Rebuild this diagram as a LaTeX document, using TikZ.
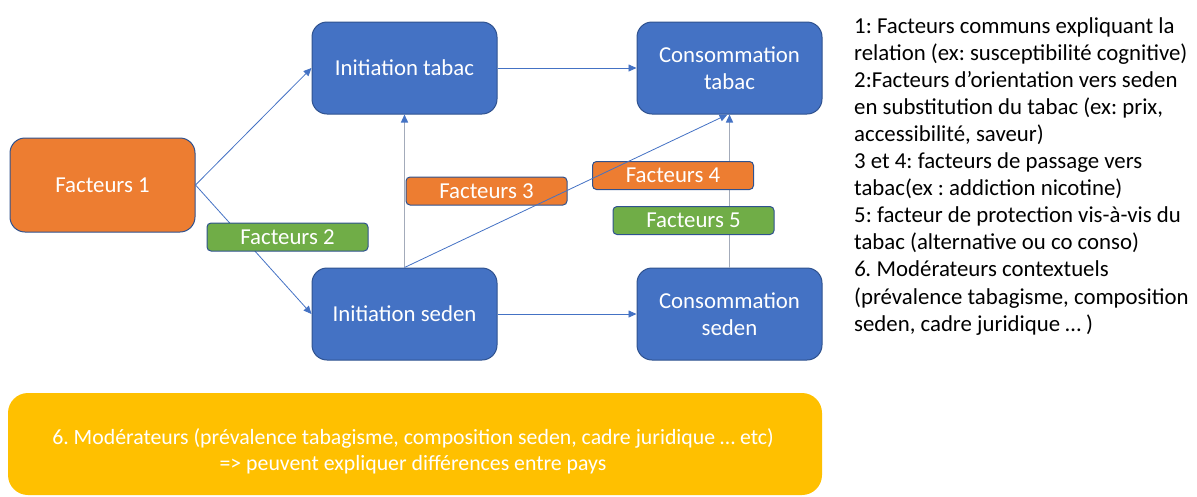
\documentclass[tikz,border=0pt]{standalone}
\usepackage{fontspec}
\setmainfont{Carlito}
\usetikzlibrary{arrows.meta}
\frenchspacing
\definecolor{boxblue}{HTML}{4472C4}
\definecolor{boxorange}{HTML}{ED7D31}
\definecolor{boxgreen}{HTML}{70AD47}
\definecolor{boxyellow}{HTML}{FFC000}
\definecolor{edgeblue}{HTML}{2F528F}
\definecolor{linkgray}{HTML}{A3ABBA}
\tikzset{
	bigbox/.style={draw=edgeblue, line width=1pt, rounded corners=15pt, text=white,
		minimum width=185pt, minimum height=92pt, align=center, inner sep=0pt,
		font=\fontsize{22.8}{27.5}\selectfont},
	tagbox/.style={draw=edgeblue, line width=1pt, rounded corners=4pt, text=white,
		minimum width=161pt, minimum height=28pt, inner sep=0pt,
		font=\fontsize{22.8}{27.5}\selectfont},
	link/.style={draw=boxblue, line width=0.8pt, -{Triangle[length=8pt,width=7pt]}},
	uplink/.style={draw=linkgray, line width=1.4pt, -{Triangle[length=8pt,width=7pt,color=boxblue]}}
}
\newcommand{\factor}[5] % name, x in px, y in px, colour, text
{
	\node[tagbox, fill=#4] (#1) at (#2,#3) {#5};
}

\begin{document}
\begin{tikzpicture}[x=1pt, y=-1pt]
	% page: 1197 x 496 px, y runs downwards
	\useasboundingbox (0,0) rectangle (1197,496);
	
	% main boxes
	\node[bigbox, fill=boxorange, minimum height=94pt] (fac1) at (102.5,185) {Facteurs 1};
	\node[bigbox, fill=boxblue] (inittabac) at (404.5,68) {Initiation tabac};
	\node[bigbox, fill=boxblue] (constabac) at (729.5,68) {Consommation\\tabac};
	\node[bigbox, fill=boxblue] (initseden) at (404.5,314) {Initiation seden};
	\node[bigbox, fill=boxblue] (consseden) at (729.5,314) {Consommation\\seden};
	
	% connectors under the labels
	\draw[link] (fac1.east) -- (inittabac.west);
	\draw[link] (fac1.east) -- (initseden.west);
	\draw[link] (inittabac.east) -- (constabac.west);
	\draw[link] (initseden.east) -- (consseden.west);
	\draw[uplink] (initseden.north) -- (inittabac.south);
	\draw[uplink] (consseden.north) -- (constabac.south);
	
	% factor labels
	\factor{fac2}{287.5}{237}{boxgreen}{Facteurs 2};
	\factor{fac3}{486.5}{191}{boxorange}{Facteurs 3};
	\factor{fac4}{673}{175.5}{boxorange}{Facteurs 4};
	\factor{fac5}{693.5}{220.5}{boxgreen}{Facteurs 5};
	
	% diagonal runs over labels 3 and 4
	\draw[link] (initseden.north) -- ([xshift=-2pt]constabac.south);
	
	% moderators
	\fill[boxyellow, rounded corners=20pt] (8,393) rectangle (822,495);
	\node[text=white, align=center, inner sep=0pt, font=\fontsize{21.8}{26}\selectfont] (moder) at (413,451)
		{6. Modérateurs (prévalence tabagisme, composition seden, cadre juridique … etc)\\
		=> peuvent expliquer différences entre pays};
	
	% legend
	\node[anchor=north west, align=left, inner sep=0pt, font=\fontsize{22.8}{27.1}\selectfont] (legend) at (854,17)
		{1: Facteurs communs expliquant la\\
		relation (ex: susceptibilité cognitive)\\
		2:Facteurs d’orientation vers seden\\
		en substitution du tabac (ex: prix,\\
		accessibilité, saveur)\\
		3 et 4: facteurs de passage vers\\
		tabac(ex : addiction nicotine)\\
		5: facteur de protection vis-à-vis du\\
		tabac (alternative ou co conso)\\
		\textit{6.} Modérateurs contextuels\\
		(prévalence tabagisme, composition\\
		seden, cadre juridique … )};
\end{tikzpicture}
\end{document}
